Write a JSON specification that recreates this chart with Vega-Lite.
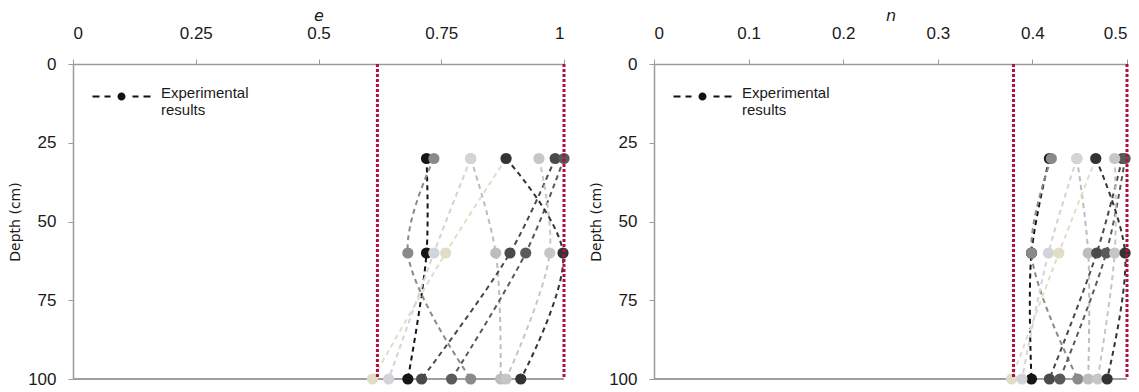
{
  "$schema": "https://vega.github.io/schema/vega-lite/v6.json",
  "background": "white",
  "padding": {"left": 8, "top": 7, "right": 5, "bottom": 3},
  "spacing": 90,
  "bounds": "flush",
  "config": {
    "view": {"stroke": null},
    "font": "Liberation Sans",
    "axis": {
      "domainColor": "#9a9a9a", "domainWidth": 1.5, "tickColor": "#9a9a9a", "tickSize": 5,
      "labelFont": "Liberation Sans", "labelFontSize": 17, "labelColor": "#1a1a1a",
      "grid": false, "titleFontWeight": "normal", "titleColor": "#1a1a1a"
    }
  },
  "datasets": {
    "e": [
      {"series": "s1", "depth": 30, "val": 0.720}, {"series": "s1", "depth": 60, "val": 0.720}, {"series": "s1", "depth": 100, "val": 0.682},
      {"series": "s2", "depth": 30, "val": 0.735}, {"series": "s2", "depth": 60, "val": 0.682}, {"series": "s2", "depth": 100, "val": 0.810},
      {"series": "s3", "depth": 30, "val": 0.810}, {"series": "s3", "depth": 60, "val": 0.861}, {"series": "s3", "depth": 100, "val": 0.871},
      {"series": "s4", "depth": 30, "val": 0.882}, {"series": "s4", "depth": 60, "val": 0.759}, {"series": "s4", "depth": 100, "val": 0.610},
      {"series": "s5", "depth": 30, "val": 0.982}, {"series": "s5", "depth": 60, "val": 0.890}, {"series": "s5", "depth": 100, "val": 0.710},
      {"series": "s6", "depth": 30, "val": 1.0}, {"series": "s6", "depth": 60, "val": 0.922}, {"series": "s6", "depth": 100, "val": 0.771},
      {"series": "s7", "depth": 30, "val": 0.949}, {"series": "s7", "depth": 60, "val": 0.971}, {"series": "s7", "depth": 100, "val": 0.882},
      {"series": "s8", "depth": 30, "val": 0.882}, {"series": "s8", "depth": 60, "val": 0.998}, {"series": "s8", "depth": 100, "val": 0.912},
      {"series": "s9", "depth": 30, "val": 0.810}, {"series": "s9", "depth": 60, "val": 0.735}, {"series": "s9", "depth": 100, "val": 0.643}
    ],
    "n": [
      {"series": "s1", "depth": 30, "val": 0.418}, {"series": "s1", "depth": 60, "val": 0.399}, {"series": "s1", "depth": 100, "val": 0.399},
      {"series": "s2", "depth": 30, "val": 0.420}, {"series": "s2", "depth": 60, "val": 0.399}, {"series": "s2", "depth": 100, "val": 0.448},
      {"series": "s3", "depth": 30, "val": 0.447}, {"series": "s3", "depth": 60, "val": 0.459}, {"series": "s3", "depth": 100, "val": 0.459},
      {"series": "s4", "depth": 30, "val": 0.467}, {"series": "s4", "depth": 60, "val": 0.428}, {"series": "s4", "depth": 100, "val": 0.378},
      {"series": "s5", "depth": 30, "val": 0.495}, {"series": "s5", "depth": 60, "val": 0.468}, {"series": "s5", "depth": 100, "val": 0.418},
      {"series": "s6", "depth": 30, "val": 0.498}, {"series": "s6", "depth": 60, "val": 0.478}, {"series": "s6", "depth": 100, "val": 0.429},
      {"series": "s7", "depth": 30, "val": 0.487}, {"series": "s7", "depth": 60, "val": 0.487}, {"series": "s7", "depth": 100, "val": 0.469},
      {"series": "s8", "depth": 30, "val": 0.467}, {"series": "s8", "depth": 60, "val": 0.498}, {"series": "s8", "depth": 100, "val": 0.479},
      {"series": "s9", "depth": 30, "val": 0.447}, {"series": "s9", "depth": 60, "val": 0.417}, {"series": "s9", "depth": 100, "val": 0.389}
    ],
    "elim": [{"val": 0.62}, {"val": 1.0}],
    "nlim": [{"val": 0.38}, {"val": 0.5}]
  },
  "resolve": {"scale": {"strokeDash": "independent"}, "legend": {"strokeDash": "independent"}},
  "hconcat": [
    {
      "width": 491, "height": 315,
      "layer": [
        {
          "data": {"name": "elim"},
          "mark": {"type": "rule", "color": "#9a9a9a", "strokeWidth": 1.5},
          "encoding": {"y": {"datum": 100, "type": "quantitative"}}
        },
        {
          "data": {"name": "e"},
          "mark": {"type": "line", "strokeWidth": 2, "interpolate": "catmull-rom"},
          "encoding": {
            "x": {"field": "val", "type": "quantitative", "scale": {"domain": [0, 1], "nice": false, "zero": false},
                  "axis": {"orient": "top", "values": [0, 0.25, 0.5, 0.75, 1], "labelExpr": "'' + datum.value", "title": "e", "titleFontStyle": "italic", "titleFontSize": 16, "titleFont": "DejaVu Sans", "labelPadding": 17, "titlePadding": 1}},
            "y": {"field": "depth", "type": "quantitative", "scale": {"domain": [0, 100], "reverse": true, "nice": false},
                  "axis": {"values": [0, 25, 50, 75, 100], "title": "Depth (cm)", "titleFont": "DejaVu Sans", "titleFontSize": 14, "labelPadding": 12, "titlePadding": 5}},
            "color": {"field": "series", "type": "nominal", "legend": null,
                      "scale": {"domain": ["s1","s2","s3","s4","s5","s6","s7","s8","s9"], "range": ["#151515","#8a8a8a","#bdbdbd","#e2dec6","#4a4a4a","#5a5a5a","#c6c6c6","#333333","#d3d3da"]}},
            "order": {"field": "depth", "type": "quantitative"},
            "strokeDash": {"datum": "Experimental results", "scale": {"range": [[5, 4]]},
              "legend": {"title": null, "orient": "top-left", "offset": 21, "padding": 0,
                "symbolType": "M-1.8,0.6H-0.4V1H-1.8Z M0.6,0.6H1.8V1H0.6Z M3.2,0.8A0.8,0.8 0 1,0 4.8,0.8A0.8,0.8 0 1,0 3.2,0.8Z M6.2,0.6H7.4V1H6.2Z M8.4,0.6H9.8V1H8.4Z",
                "symbolSize": 100, "labelExpr": "['Experimental', 'results']", "labelFontSize": 15, "labelFont": "Liberation Sans", "labelColor": "#1a1a1a", "labelOffset": 52, "labelLimit": 300,
                "encode": {"symbols": {"update": {"fill": {"value": "#111"}, "stroke": {"value": "transparent"}, "strokeWidth": {"value": 0}, "opacity": {"value": 1}}}}}}
          }
        },
        {
          "data": {"name": "e"},
          "mark": {"type": "point", "filled": true, "size": 125, "opacity": 1},
          "encoding": {
            "x": {"field": "val", "type": "quantitative"},
            "y": {"field": "depth", "type": "quantitative"},
            "color": {"field": "series", "type": "nominal", "legend": null}
          }
        },
        {
          "data": {"name": "elim"},
          "mark": {"type": "rule", "color": "#b0103a", "strokeWidth": 3, "strokeDash": [3, 2]},
          "encoding": {"x": {"field": "val", "type": "quantitative"}}
        }
      ]
    },
    {
      "width": 473, "height": 315,
      "layer": [
        {
          "data": {"name": "nlim"},
          "mark": {"type": "rule", "color": "#9a9a9a", "strokeWidth": 1.5},
          "encoding": {"y": {"datum": 100, "type": "quantitative"}}
        },
        {
          "data": {"name": "n"},
          "mark": {"type": "line", "strokeWidth": 2, "interpolate": "catmull-rom"},
          "encoding": {
            "x": {"field": "val", "type": "quantitative", "scale": {"domain": [0, 0.5], "nice": false, "zero": false},
                  "axis": {"orient": "top", "values": [0, 0.1, 0.2, 0.3, 0.4, 0.5], "labelExpr": "'' + datum.value", "title": "n", "titleFontStyle": "italic", "titleFontSize": 16, "titleFont": "DejaVu Sans", "labelPadding": 17, "titlePadding": 1}},
            "y": {"field": "depth", "type": "quantitative", "scale": {"domain": [0, 100], "reverse": true, "nice": false},
                  "axis": {"values": [0, 25, 50, 75, 100], "title": "Depth (cm)", "titleFont": "DejaVu Sans", "titleFontSize": 14, "labelPadding": 12, "titlePadding": 5}},
            "color": {"field": "series", "type": "nominal", "legend": null},
            "order": {"field": "depth", "type": "quantitative"},
            "strokeDash": {"datum": "Experimental results", "scale": {"range": [[5, 4]]},
              "legend": {"title": null, "orient": "top-left", "offset": 21, "padding": 0,
                "symbolType": "M-1.8,0.6H-0.4V1H-1.8Z M0.6,0.6H1.8V1H0.6Z M3.2,0.8A0.8,0.8 0 1,0 4.8,0.8A0.8,0.8 0 1,0 3.2,0.8Z M6.2,0.6H7.4V1H6.2Z M8.4,0.6H9.8V1H8.4Z",
                "symbolSize": 100, "labelExpr": "['Experimental', 'results']", "labelFontSize": 15, "labelFont": "Liberation Sans", "labelColor": "#1a1a1a", "labelOffset": 52, "labelLimit": 300,
                "encode": {"symbols": {"update": {"fill": {"value": "#111"}, "stroke": {"value": "transparent"}, "strokeWidth": {"value": 0}, "opacity": {"value": 1}}}}}}
          }
        },
        {
          "data": {"name": "n"},
          "mark": {"type": "point", "filled": true, "size": 125, "opacity": 1},
          "encoding": {
            "x": {"field": "val", "type": "quantitative"},
            "y": {"field": "depth", "type": "quantitative"},
            "color": {"field": "series", "type": "nominal", "legend": null}
          }
        },
        {
          "data": {"name": "nlim"},
          "mark": {"type": "rule", "color": "#b0103a", "strokeWidth": 3, "strokeDash": [3, 2]},
          "encoding": {"x": {"field": "val", "type": "quantitative"}}
        }
      ]
    }
  ]
}
